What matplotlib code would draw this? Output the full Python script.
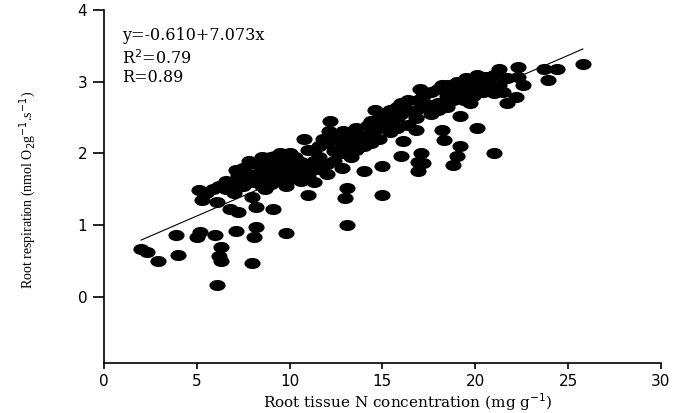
"""Scatter of root respiration against root tissue N, with a linear fit."""

import numpy as np
import matplotlib
matplotlib.use("Agg")
import matplotlib.pyplot as plt
from matplotlib.path import Path
from matplotlib.transforms import Affine2D

# --- Data ---
n_conc = [
    2.0, 2.3, 2.9, 4.0, 3.9, 5.0, 5.2, 6.0, 7.1, 6.3, 6.2, 6.3, 8.0, 6.1,
    8.2, 8.1, 9.8, 5.1, 5.9, 6.6, 5.3, 6.1, 6.8, 7.2, 8.2, 9.1, 7.1, 8.7,
    9.2, 5.5, 6.2, 6.6, 7.0, 7.0, 7.2, 7.5, 7.5, 7.5, 7.8, 7.8, 8.0, 8.0,
    8.2, 8.2, 8.5, 8.5, 8.5, 8.5, 8.7, 9.0, 9.0, 9.0, 9.0, 9.2, 9.5, 9.5,
    9.5, 9.5, 9.8, 9.8, 9.8, 10.0, 10.0, 10.0, 10.3, 10.3, 10.3, 10.6, 10.6,
    10.6, 11.0, 11.0, 11.0, 11.0, 11.3, 11.3, 11.3, 11.6, 11.6, 11.6, 12.1,
    12.0, 12.0, 12.0, 12.4, 12.4, 12.4, 12.8, 12.9, 12.8, 12.8, 13.1, 13.1,
    13.0, 13.0, 13.3, 13.3, 13.3, 13.6, 13.6, 13.6, 14.0, 14.2, 14.0, 14.0,
    14.4, 14.4, 14.4, 14.8, 14.8, 14.8, 15.0, 15.0, 15.2, 15.0, 15.4, 15.4,
    15.4, 15.8, 15.8, 15.8, 16.0, 16.1, 16.0, 16.0, 16.4, 16.4, 16.4, 16.8,
    16.9, 16.8, 16.8, 16.9, 16.9, 17.1, 17.2, 17.2, 17.2, 17.6, 17.6, 17.6,
    18.0, 18.0, 18.0, 18.2, 18.2, 18.3, 18.5, 18.5, 18.5, 18.8, 18.8, 18.8,
    19.0, 19.0, 19.0, 19.2, 19.2, 19.4, 19.2, 19.5, 19.5, 19.5, 19.9, 19.9,
    19.9, 20.1, 20.1, 20.1, 20.4, 20.4, 20.6, 20.6, 21.0, 21.0, 21.0, 21.3,
    21.3, 21.7, 21.7, 22.2, 22.3, 22.3, 22.6, 23.7, 23.9, 24.4, 25.8, 10.8,
    11.8, 12.2, 14.6, 15.6, 17.0, 19.7, 20.8, 21.5,
]
resp = [
    0.67, 0.62, 0.50, 0.58, 0.87, 0.84, 0.91, 0.87, 0.92, 0.70, 0.57, 0.50,
    0.48, 0.17, 0.98, 0.84, 0.89, 1.49, 1.50, 1.50, 1.35, 1.33, 1.22, 1.19,
    1.26, 1.22, 1.77, 1.87, 1.96, 1.45, 1.55, 1.62, 1.60, 1.45, 1.70, 1.80,
    1.55, 1.65, 1.72, 1.90, 1.60, 1.40, 1.85, 1.70, 1.75, 1.55, 1.95, 1.65,
    1.50, 1.80, 1.68, 1.95, 1.58, 1.75, 1.85, 1.62, 2.00, 1.70, 1.90, 1.75,
    1.55, 1.80, 2.00, 1.65, 1.85, 1.70, 1.95, 1.75, 1.88, 1.62, 1.42, 1.80,
    2.05, 1.70, 2.05, 1.90, 1.60, 1.78, 2.10, 1.95, 2.31, 1.85, 2.15, 1.72,
    2.03, 2.25, 1.90, 1.80, 2.31, 2.15, 2.00, 1.01, 1.52, 1.38, 2.22, 2.30,
    2.10, 1.95, 2.35, 2.05, 2.20, 1.76, 2.40, 2.25, 2.10, 2.30, 2.45, 2.15,
    2.35, 2.50, 2.20, 1.42, 1.82, 2.56, 2.40, 2.45, 2.30, 2.60, 2.50, 2.35,
    2.65, 1.96, 2.17, 2.70, 2.55, 2.60, 2.40, 2.75, 2.33, 2.75, 2.60, 2.50,
    1.88, 1.75, 2.00, 1.87, 2.65, 2.80, 2.68, 2.55, 2.85, 2.70, 2.90, 2.60,
    2.33, 2.96, 2.19, 2.80, 2.65, 2.95, 1.84, 2.85, 2.75, 1.96, 3.00, 2.80,
    2.52, 2.10, 2.75, 2.90, 2.95, 2.85, 3.05, 3.00, 2.80, 2.90, 2.35, 2.95,
    3.10, 2.85, 3.00, 3.07, 2.90, 2.01, 2.84, 3.10, 3.17, 2.95, 2.70, 3.05,
    2.79, 3.21, 3.07, 2.96, 3.17, 3.03, 3.17, 3.24, 2.20, 2.20, 2.45, 2.60,
    2.55, 2.90, 2.70, 2.95, 2.85,
]

x_ticks = [0, 5, 10, 15, 20, 25, 30]
y_ticks = [0, 1, 2, 3, 4]
stats_lines = ["y=-0.610+7.073x", "R$^2$=0.79", "R=0.89"]

SERIF = "Liberation Serif"
WIDE_SERIF = "DejaVu Serif"
SANS = "DejaVu Sans"


def main():
    fig = plt.figure(figsize=(6.75, 4.13), dpi=100)
    ax = fig.add_axes([0.154, 0.121, 0.825, 0.855])

    # flattened octagon-ish blob like the original markers
    blob = Path.unit_circle().transformed(Affine2D().scale(1.45, 1.0))
    ax.scatter(n_conc, resp, s=135, marker=blob, color="black",
               linewidths=0, zorder=3)

    # least-squares line over the data range
    slope, intercept = np.polyfit(n_conc, resp, 1)
    xs = np.array([min(n_conc), max(n_conc)])
    ax.plot(xs, intercept + slope * xs, color="black", linewidth=0.8,
            zorder=2)

    ax.set_xlim(0, 30)
    ax.set_ylim(-0.92, 4)
    ax.set_xticks(x_ticks)
    ax.set_yticks(y_ticks)
    ax.spines["top"].set_visible(False)
    ax.spines["right"].set_visible(False)
    for side in ("left", "bottom"):
        ax.spines[side].set_linewidth(1.2)
    ax.tick_params(axis="x", length=4, width=1.2, pad=4)
    ax.tick_params(axis="y", length=8, width=1.2, pad=4)
    for lab in ax.get_xticklabels() + ax.get_yticklabels():
        lab.set_family(SANS)
        lab.set_fontsize(11)

    ax.set_xlabel("Root tissue N concentration (mg g$^{-1}$)",
                  family=WIDE_SERIF, fontsize=11)
    ax.xaxis.set_label_coords(0.545, -0.08)
    ax.set_ylabel("Root respiration (nmol O$_2$g$^{-1}$.s$^{-1}$)",
                  family=SERIF, fontsize=10)
    ax.yaxis.set_label_coords(-0.118, 0.49)

    # regression summary, one baseline per line
    for line, y in zip(stats_lines, [0.915, 0.846, 0.795]):
        ax.text(0.032, y, line, transform=ax.transAxes, family=WIDE_SERIF,
                fontsize=11.5, va="baseline", ha="left")

    fig.savefig("out.png", dpi=100, facecolor="white")
    plt.close(fig)


if __name__ == "__main__":
    main()
